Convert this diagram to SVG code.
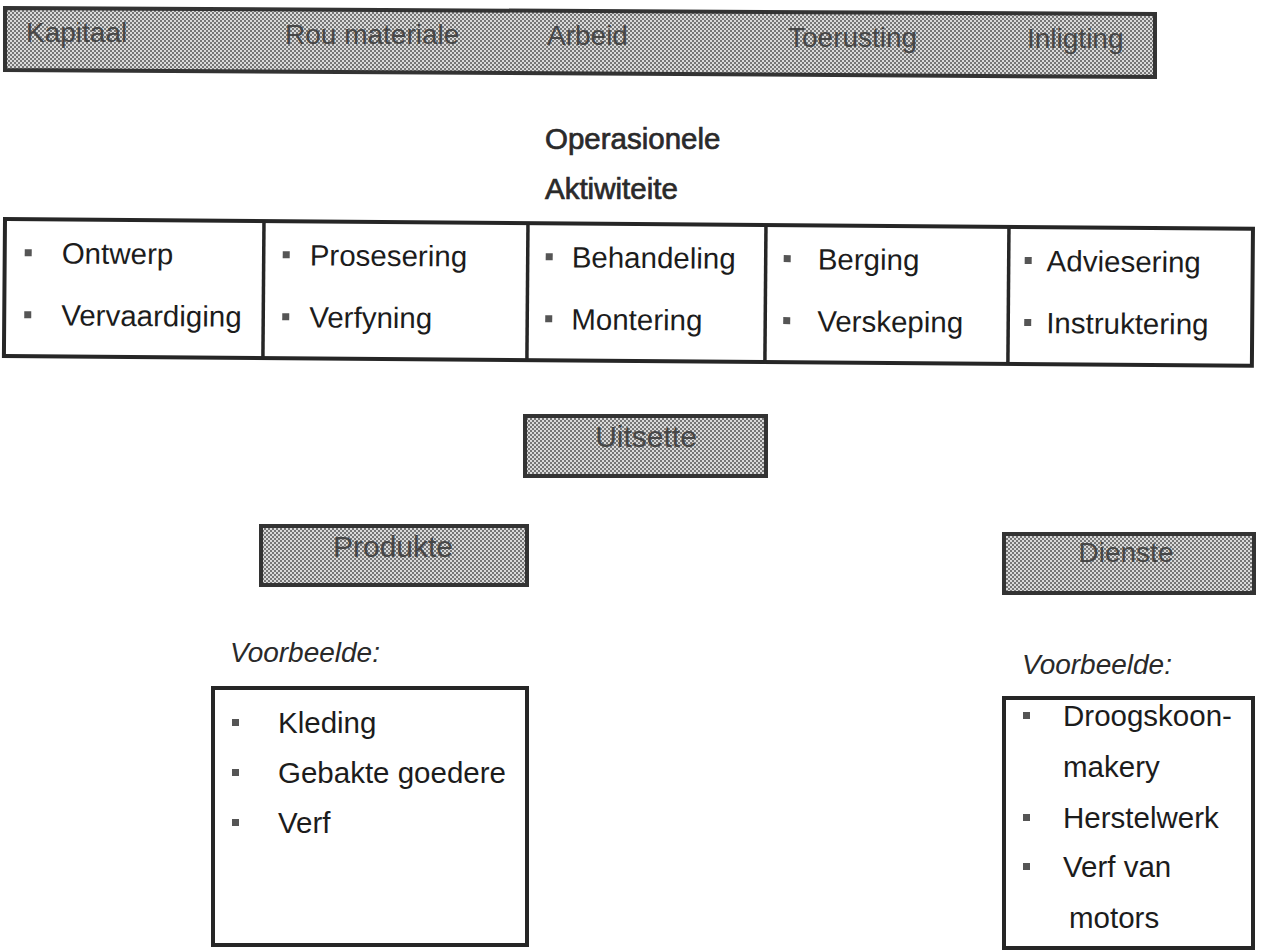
<svg xmlns="http://www.w3.org/2000/svg" width="1261" height="951" viewBox="0 0 1261 951">
<defs>
<pattern id="ht" width="4" height="4" patternUnits="userSpaceOnUse">
<rect width="4" height="4" fill="#dadada"/>
<rect width="2" height="2" fill="#767676"/>
<rect x="2" y="2" width="2" height="2" fill="#767676"/>
</pattern>
<rect id="bul" width="7" height="7"/>
</defs>
<style>
.shade{fill:url(#ht);stroke:#333;stroke-width:4}
.lbl{font-family:"Liberation Sans",Arial,sans-serif;font-size:28px;fill:#474747}
.box{fill:#fff;stroke:#262626;stroke-width:4}
.grid{stroke:#262626;stroke-width:3.5;fill:none}
.it{font-family:"Liberation Sans",Arial,sans-serif;font-size:29.5px;fill:#1c1c1c}
.b{fill:#555}
.hd{font-family:"Liberation Sans",Arial,sans-serif;font-size:29.5px;fill:#2a2a2a;stroke:#2a2a2a;stroke-width:0.7}
.vb{font-family:"Liberation Sans",Arial,sans-serif;font-size:28px;font-style:italic;fill:#2a2a2a}
</style>
<rect width="1261" height="951" fill="#fff"/>

<g id="insette">
<polygon class="shade" points="5,8 1155,14 1155,77 5,70"/>
<text class="lbl" x="26" y="42">Kapitaal</text>
<text class="lbl" x="285" y="44">Rou materiale</text>
<text class="lbl" x="547" y="45">Arbeid</text>
<text class="lbl" x="788" y="47">Toerusting</text>
<text class="lbl" x="1027" y="48">Inligting</text>
</g>

<g id="opskrif">
<text class="hd" x="545" y="149">Operasionele</text>
<text class="hd" x="545" y="199">Aktiwiteite</text>
</g>

<g id="aktiwiteite" transform="rotate(0.45 5 219)">
<rect class="box" x="5" y="219" width="1248" height="137"/>
<g id="kol1">
<use href="#bul" class="b" x="25" y="249"/><text class="it" x="62" y="263">Ontwerp</text>
<use href="#bul" class="b" x="25" y="311"/><text class="it" x="62" y="325">Vervaardiging</text>
</g>
<line class="grid" x1="264" y1="219" x2="264" y2="356"/>
<g id="kol2">
<use href="#bul" class="b" x="283" y="249"/><text class="it" x="310" y="263">Prosesering</text>
<use href="#bul" class="b" x="283" y="311"/><text class="it" x="310" y="325">Verfyning</text>
</g>
<line class="grid" x1="528" y1="219" x2="528" y2="356"/>
<g id="kol3">
<use href="#bul" class="b" x="546" y="249"/><text class="it" x="572" y="263">Behandeling</text>
<use href="#bul" class="b" x="546" y="311"/><text class="it" x="572" y="325">Montering</text>
</g>
<line class="grid" x1="766" y1="219" x2="766" y2="356"/>
<g id="kol4">
<use href="#bul" class="b" x="784" y="249"/><text class="it" x="818" y="263">Berging</text>
<use href="#bul" class="b" x="784" y="311"/><text class="it" x="818" y="325">Verskeping</text>
</g>
<line class="grid" x1="1009" y1="219" x2="1009" y2="356"/>
<g id="kol5">
<use href="#bul" class="b" x="1025" y="249"/><text class="it" x="1047" y="263">Adviesering</text>
<use href="#bul" class="b" x="1025" y="311"/><text class="it" x="1047" y="325">Instruktering</text>
</g>
</g>

<g id="uitsette">
<rect class="shade" x="525" y="416" width="241" height="60"/>
<text class="lbl" x="646" y="447" text-anchor="middle" style="font-size:30px">Uitsette</text>
</g>

<g id="produkte">
<rect class="shade" x="261" y="526" width="266" height="59"/>
<text class="lbl" x="393" y="557" text-anchor="middle" style="font-size:30px">Produkte</text>
</g>

<g id="dienste">
<rect class="shade" x="1004" y="534" width="250" height="59"/>
<text class="lbl" x="1126" y="562" text-anchor="middle">Dienste</text>
</g>

<g id="produkte-voorbeelde">
<text class="vb" x="230" y="662">Voorbeelde:</text>
<rect class="box" x="213" y="688" width="314" height="257"/>
<use href="#bul" class="b" x="232" y="719"/><text class="it" x="278" y="733">Kleding</text>
<use href="#bul" class="b" x="232" y="769"/><text class="it" x="278" y="783">Gebakte goedere</text>
<use href="#bul" class="b" x="232" y="819"/><text class="it" x="278" y="833">Verf</text>
</g>

<g id="dienste-voorbeelde">
<text class="vb" x="1022" y="674">Voorbeelde:</text>
<rect class="box" x="1004" y="698" width="249" height="250"/>
<use href="#bul" class="b" x="1023" y="712"/><text class="it" x="1063" y="726">Droogskoon-</text>
<text class="it" x="1063" y="777">makery</text>
<use href="#bul" class="b" x="1023" y="814"/><text class="it" x="1063" y="828">Herstelwerk</text>
<use href="#bul" class="b" x="1023" y="863"/><text class="it" x="1063" y="877">Verf van</text>
<text class="it" x="1069" y="928">motors</text>
</g>

<g id="connectors"></g>
</svg>
